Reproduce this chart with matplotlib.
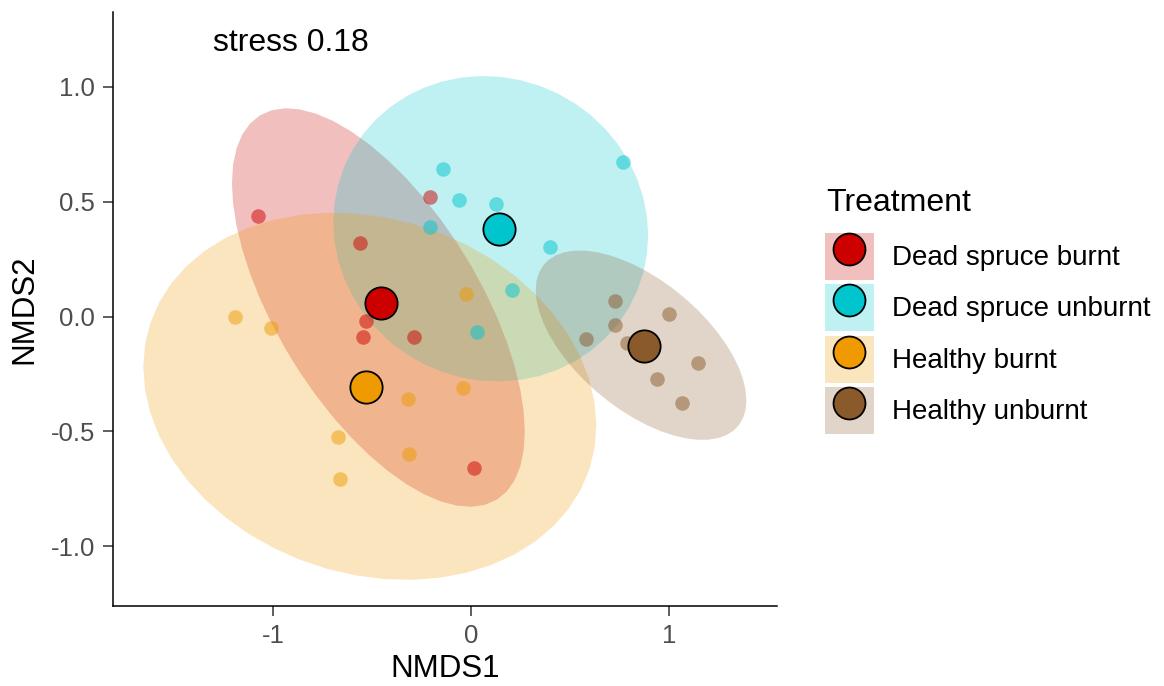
import numpy as np
import matplotlib.pyplot as plt
from matplotlib.patches import Patch
from matplotlib.lines import Line2D
from matplotlib.legend_handler import HandlerTuple

plt.rcParams['font.family'] = ['Liberation Sans', 'DejaVu Sans']
plt.rcParams['axes.unicode_minus'] = False

treatments = ["Dead spruce burnt", "Dead spruce unburnt", "Healthy burnt", "Healthy unburnt"]
colors = ["#CD0000", "#00C5CD", "#EE9A00", "#8B5A2B"]

# NMDS site scores
# (one dead spruce burnt site sits under its centroid marker)
dsb_x = [-1.079, -0.211, -0.531, -0.550, 0.015, -0.561, -0.292, -0.458]
dsb_y = [0.438, 0.522, -0.018, -0.088, -0.661, 0.319, -0.088, 0.061]
dsu_x = [-0.143, -0.064, 0.126, -0.211, 0.767, 0.396, 0.206, 0.029]
dsu_y = [0.641, 0.506, 0.490, 0.391, 0.671, 0.301, 0.115, -0.067]
hb_x = [-1.194, -1.012, -0.029, -0.322, -0.042, -0.674, -0.314, -0.663]
hb_y = [-0.001, -0.049, 0.098, -0.359, -0.310, -0.523, -0.600, -0.709]
hu_x = [0.725, 0.725, 0.580, 0.784, 0.998, 1.142, 0.939, 1.062]
hu_y = [0.069, -0.037, -0.097, -0.114, 0.010, -0.204, -0.272, -0.378]

xs = [dsb_x, dsu_x, hb_x, hu_x]
ys = [dsb_y, dsu_y, hb_y, hu_y]

stress = 0.18
xticks = [-1, 0, 1]
yticks = [-1.0, -0.5, 0.0, 0.5, 1.0]


def t_ellipse(x, y, level=0.95, nu=5, segments=51):
    # same recipe as ggplot2 stat_ellipse(type = "t"): robust t covariance
    xy = np.column_stack([x, y])
    n, p = xy.shape
    loc = xy.mean(axis=0)
    w = np.ones(n)
    for _ in range(25):
        w0 = w
        X = xy - loc
        _, d, vt = np.linalg.svd(np.sqrt(w / w.sum())[:, None] * X, full_matrices=False)
        Q = ((X @ vt.T / d) ** 2).sum(axis=1)
        w = (nu + p) / (nu + Q)
        loc = (w[:, None] * xy).sum(axis=0) / w.sum()
        if np.all(np.abs(w - w0) < 0.01):
            break
    sw = np.sqrt(w)[:, None] * X
    cov = sw.T @ sw / n
    dfd = n - 1
    fq = dfd / 2 * ((1 - level) ** (-2 / dfd) - 1)  # qf(level, 2, dfd)
    radius = np.sqrt(2 * fq)
    ang = np.linspace(0, 2 * np.pi, segments)
    circle = np.column_stack([np.cos(ang), np.sin(ang)])
    ell = loc + radius * circle @ np.linalg.cholesky(cov).T
    return ell[:, 0], ell[:, 1]


fig = plt.figure(figsize=(11.64, 6.86), dpi=100)
ax = fig.add_axes([0.0973, 0.1166, 0.5702, 0.8659])

for x, y, c in zip(xs, ys, colors):
    ex, ey = t_ellipse(x, y)
    ax.fill(ex, ey, color=c, alpha=0.25, lw=0)

for x, y, c in zip(xs, ys, colors):
    ax.scatter(x, y, s=110, color=c, alpha=0.5, lw=0)

for x, y, c in zip(xs, ys, colors):
    ax.scatter(np.mean(x), np.mean(y), s=540, color=c, edgecolor='black', lw=1.3, zorder=5)

ax.text(-0.91, 1.19, "stress %.2f" % stress, fontsize=23, ha='center', va='center')

ax.set_xlim(-1.809, 1.543)
ax.set_ylim(-1.260, 1.326)
ax.set_xticks(xticks)
ax.set_xticklabels([str(t) for t in xticks])
ax.set_yticks(yticks)
ax.set_yticklabels(["%.1f" % t for t in yticks])
ax.tick_params(labelsize=18.5, labelcolor='#4D4D4D', color='#333333', length=7, width=1.1, pad=6)
ax.set_xlabel("NMDS1", fontsize=22.5, labelpad=4)
ax.set_ylabel("NMDS2", fontsize=22.5, labelpad=8)
for side in ['top', 'right']:
    ax.spines[side].set_visible(False)
for side in ['left', 'bottom']:
    ax.spines[side].set_linewidth(1.1)

handles = [(Patch(facecolor=c, alpha=0.25, lw=0),
            Line2D([], [], ls='', marker='o', markersize=23, mfc=c, mec='black', mew=1.3))
           for c in colors]
fig.text(826 / 1164, 1 - 203 / 686, "Treatment", fontsize=23, ha='left', va='center')
fig.legend(handles, treatments, handler_map={tuple: HandlerTuple(ndivide=1)},
           loc='center left', bbox_to_anchor=(825 / 1164, 1 - 333.5 / 686),
           frameon=False, fontsize=20, handlelength=1.76, handleheight=2.22,
           labelspacing=0.16, handletextpad=0.65, borderpad=0, borderaxespad=0)

fig.savefig("out.png", dpi=100)
